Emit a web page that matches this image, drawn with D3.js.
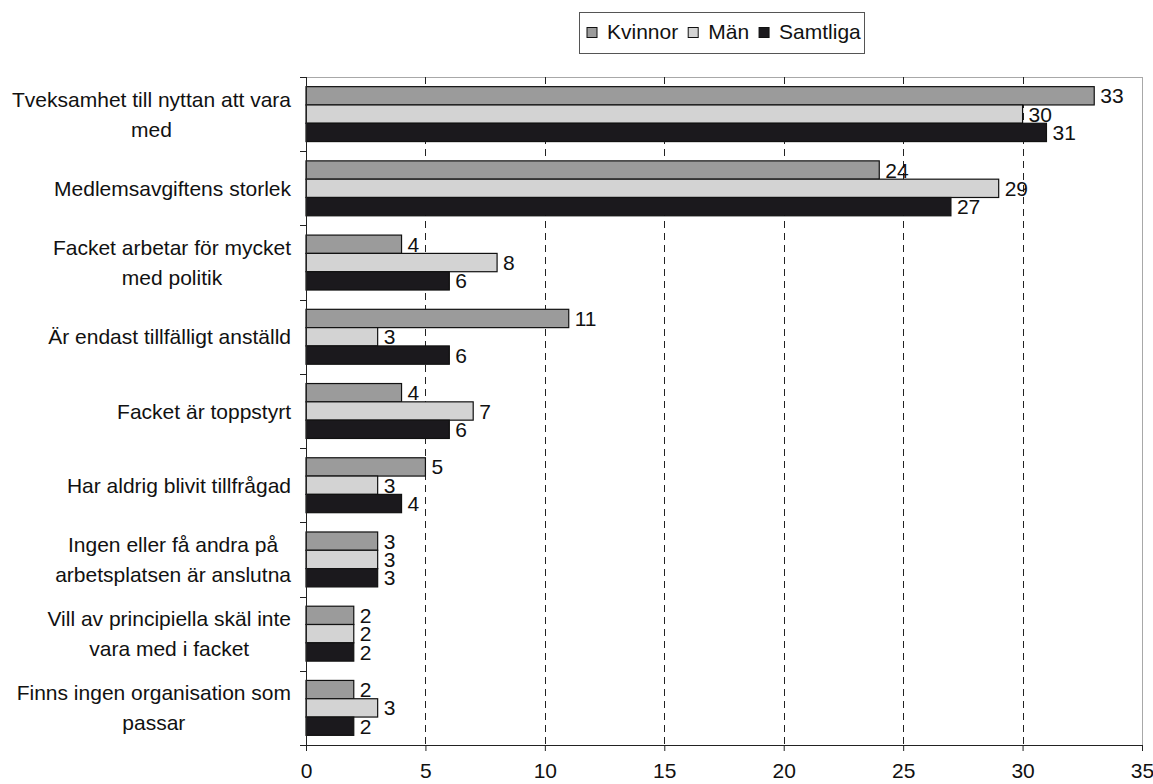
<!DOCTYPE html>
<html><head><meta charset="utf-8">
<script src="https://cdn.jsdelivr.net/npm/d3@7"></script>
<style>body{margin:0;background:#fff}svg{display:block}text{font-family:"Liberation Sans",Arial,Helvetica,sans-serif;fill:#111}</style>
</head><body><svg id="c" width="1153" height="784"></svg>
<script>
const categories = [
  ["Tveksamhet till nyttan att vara","med"],
  ["Medlemsavgiftens storlek"],
  ["Facket arbetar för mycket","med politik"],
  ["Är endast tillfälligt anställd"],
  ["Facket är toppstyrt"],
  ["Har aldrig blivit tillfrågad"],
  ["Ingen eller få andra på","arbetsplatsen är anslutna"],
  ["Vill av principiella skäl inte","vara med i facket"],
  ["Finns ingen organisation som","passar"]
];
const seriesNames = ["Kvinnor","Män","Samtliga"];
const kvinnor  = [33,24,4,11,4,5,3,2,2];
const man      = [30,29,8,3,7,3,3,2,3];
const samtliga = [31,27,6,6,6,4,3,2,2];
const colors = ["#9b9b9b","#d3d3d3","#1b191d"];
const xTicks = [0,5,10,15,20,25,30,35];

const values = [kvinnor, man, samtliga];
const svg = d3.select("#c");
const L=306, R=1142, T=77, B=745;
const FS = 21;
const x = d3.scaleLinear().domain([0,35]).range([L,R]);
const idx = d3.range(categories.length);
const y = d3.scaleBand().domain(idx).range([T,B]).paddingInner(0.26).paddingOuter(0.13);
const yg = d3.scaleBand().domain(idx).range([T,B]);
const ys = d3.scaleBand().domain(d3.range(3)).range([0,y.bandwidth()]);

// frame top/right
svg.append("line").attr("x1",L).attr("x2",R).attr("y1",T+0.5).attr("y2",T+0.5).attr("stroke","#a8a8a8");
svg.append("line").attr("x1",R+0.5).attr("x2",R+0.5).attr("y1",T).attr("y2",B).attr("stroke","#a8a8a8");

// gridlines
svg.append("g").selectAll("line").data(xTicks.filter(d=>d>0&&d<35)).join("line")
  .attr("x1",d=>Math.round(x(d))+0.5).attr("x2",d=>Math.round(x(d))+0.5)
  .attr("y1",T).attr("y2",B).attr("stroke","#222").attr("stroke-width",1).attr("stroke-dasharray","7,5");

// bars
values.forEach((vals,s)=>{
  const g = svg.append("g");
  g.selectAll("rect").data(vals).join("rect")
    .attr("x",L).attr("y",(d,i)=>y(i)+ys(s))
    .attr("width",d=>x(d)-L).attr("height",ys.bandwidth())
    .attr("fill",colors[s]).attr("stroke","#111").attr("stroke-width",1.2);
  g.selectAll("text").data(vals).join("text")
    .attr("x",d=>x(d)+6).attr("y",(d,i)=>y(i)+ys(s)+ys.bandwidth()/2)
    .attr("dy","0.36em").attr("font-size",FS).text(d=>d);
});

// bottom axis
const xa = svg.append("g").attr("transform",`translate(0,${B})`)
  .call(d3.axisBottom(x).tickValues(xTicks).tickSize(6).tickPadding(12));
xa.select(".domain").attr("stroke","#222");
xa.selectAll(".tick line").attr("stroke","#222");
xa.selectAll("text").attr("font-size",FS).attr("fill","#111").attr("font-family",null);

// left axis line & ticks
svg.append("line").attr("x1",L+0.5).attr("x2",L+0.5).attr("y1",T).attr("y2",B).attr("stroke","#222");
svg.append("g").selectAll("line").data(d3.range(categories.length+1)).join("line")
  .attr("x1",L-6).attr("x2",L).attr("y1",d=>Math.round(T+d*yg.step())+0.5).attr("y2",d=>Math.round(T+d*yg.step())+0.5)
  .attr("stroke","#222");

// category labels (centered block, right edge at 290)
const labelRight = 291;
categories.forEach((lines,i)=>{
  const cy = yg(i)+yg.bandwidth()/2;
  const g = svg.append("g");
  const ts = lines.map((ln,k)=>g.append("text").attr("font-size",FS)
     .attr("y",cy+(k-(lines.length-1)/2)*30).attr("dy","0.36em").attr("text-anchor","middle").text(ln));
  const w = d3.max(ts,t=>t.node().getComputedTextLength());
  ts.forEach(t=>t.attr("x",labelRight-w/2));
});

// legend
const lg = svg.append("g");
let lx = 587;
const items=[];
seriesNames.forEach((n,i)=>{
  lg.append("rect").attr("x",lx).attr("y",27.5).attr("width",10).attr("height",10)
    .attr("fill",colors[i]).attr("stroke","#111").attr("stroke-width",1);
  const t = lg.append("text").attr("x",lx+20).attr("y",39).attr("font-size",FS).text(n);
  lx += 20 + t.node().getComputedTextLength() + 10;
});
lg.insert("rect",":first-child").attr("x",579.5).attr("y",12.5).attr("width",285).attr("height",41)
  .attr("fill","#fff").attr("stroke","#555");
</script></body></html>
